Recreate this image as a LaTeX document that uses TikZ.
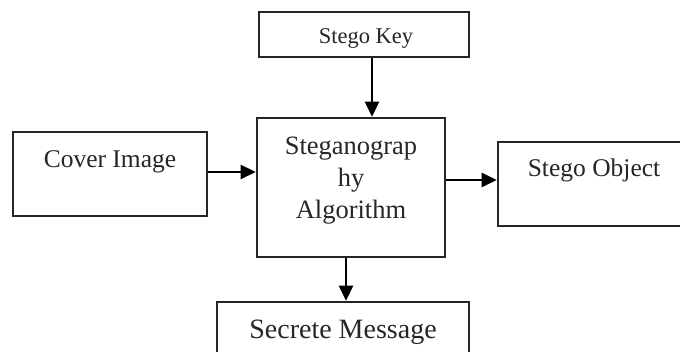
\documentclass[tikz,border=0pt]{standalone}
\usepackage{fontspec}
\setmainfont{Liberation Serif}
\usetikzlibrary{arrows.meta}
\begin{document}
\begin{tikzpicture}[x=1pt,y=-1pt,
  box/.style={draw=black!85, line width=2.6pt, rectangle, inner sep=0pt},
  txt/.style={inner sep=0pt, text=black!85, align=center},
  arr/.style={draw=black, line width=2.6pt, -{Triangle[length=15pt,width=14pt]}}]
\useasboundingbox (0,0) rectangle (680,352);
\clip (0,0) rectangle (680,352);
% boxes
\node[box, minimum width=210pt, minimum height=45pt] (key) at (364,34.5) {};
\node[box, minimum width=188pt, minimum height=139pt] (main) at (351,187.5) {};
\node[box, minimum width=194pt, minimum height=84pt] (cover) at (110,174) {};
\node[box, minimum width=200pt, minimum height=84pt] (obj) at (598,184) {};
\node[box, minimum width=252pt, minimum height=70pt] (secret) at (343,337) {};
% texts
\node[txt, font=\fontsize{22.5}{27}\selectfont] (keyt) at (366,38) {Stego Key};
\node[txt, font=\fontsize{26.5}{32}\selectfont] (maint) at (351,181) {Steganograp\\hy\\Algorithm};
\node[txt, font=\fontsize{25.5}{30}\selectfont] (covert) at (110,162) {Cover Image};
\node[txt, font=\fontsize{25.5}{30}\selectfont] (objt) at (594,170) {Stego Object};
\node[txt, font=\fontsize{28}{33}\selectfont] (secrett) at (343,332) {Secrete Message};
% connectors
\draw[arr] ([xshift=8pt]key.south) -- ([xshift=8pt]key.south |- main.north);
\draw[arr] ([yshift=2pt]cover.east) -- ([yshift=2pt]cover.east -| main.west);
\draw[arr] ([yshift=4pt]obj.west -| main.east) -- ([yshift=4pt]obj.west);
\draw[arr] ([xshift=-5pt]main.south) -- ([xshift=-5pt]main.south |- secret.north);
\end{tikzpicture}
\end{document}
